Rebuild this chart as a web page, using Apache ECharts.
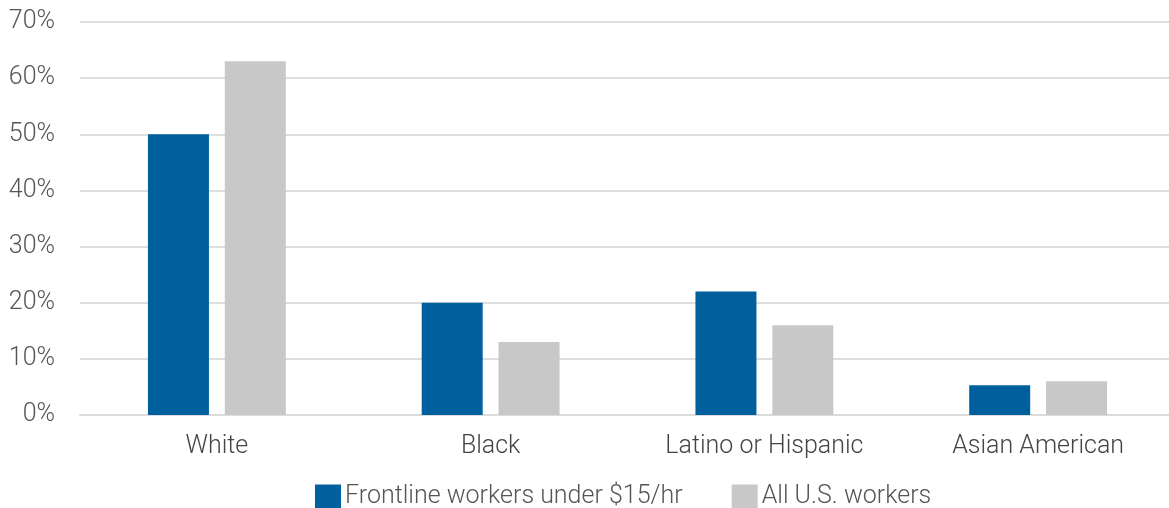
<!DOCTYPE html>
<html>
<head>
<meta charset="utf-8">
<script src="https://cdn.jsdelivr.net/npm/echarts@6/dist/echarts.min.js"></script>
<style>
  html, body { margin: 0; padding: 0; background: #fff; }
  #chart { width: 1169px; height: 508px; }
</style>
</head>
<body>
<div id="chart"></div>
<script>
const categories = ['White', 'Black', 'Latino or Hispanic', 'Asian American']
const frontline = [50, 20, 22, 5.3]
const allWorkers = [63, 13, 16, 6]
const seriesNames = ['Frontline workers under $15/hr', 'All U.S. workers']

const font = 'Roboto'
const textColor = '#555'

const chart = echarts.init(document.getElementById('chart'))
chart.setOption({
  animation: false,
  grid: {
    left: 80,
    right: -6,
    top: 22,
    bottom: 93,
    containLabel: false,
    outerBoundsMode: 'none'
  },
  legend: {
    left: 310,
    top: 479,
    itemWidth: 26,
    itemHeight: 24,
    itemGap: 49,
    icon: 'rect',
    textStyle: { fontFamily: font, fontWeight: 300, fontSize: 25, color: textColor, padding: [0, 0, 0, -1] },
    data: seriesNames
  },
  xAxis: {
    type: 'category',
    data: categories,
    axisLine: { lineStyle: { color: '#dcdcdc', width: 2 } },
    axisTick: { show: false },
    axisLabel: { fontFamily: font, fontWeight: 300, fontSize: 25, color: '#444', margin: 19 }
  },
  yAxis: {
    type: 'value',
    min: 0,
    max: 70,
    interval: 10,
    axisLine: { show: false },
    axisTick: { show: false },
    splitLine: { lineStyle: { color: '#dedede', width: 2 } },
    axisLabel: {
      fontFamily: font, fontWeight: 300, fontSize: 25, color: textColor, margin: 25,
      formatter: '{value}%'
    }
  },
  series: [
    {
      name: seriesNames[0],
      type: 'bar',
      data: frontline,
      barWidth: 61,
      barGap: '26%',
      itemStyle: { color: '#00609e' }
    },
    {
      name: seriesNames[1],
      type: 'bar',
      data: allWorkers,
      barWidth: 61,
      itemStyle: { color: '#c8c8c8' }
    }
  ]
})
</script>
</body>
</html>
